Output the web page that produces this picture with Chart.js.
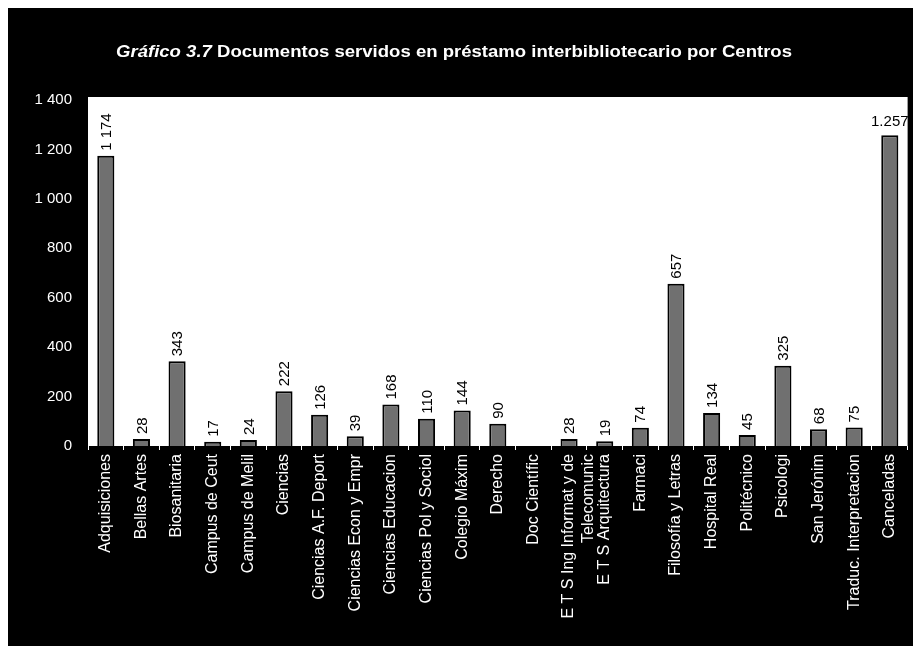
<!DOCTYPE html>
<html>
<head>
<meta charset="utf-8">
<script src="https://cdn.jsdelivr.net/npm/chart.js@4/dist/chart.umd.min.js"></script>
<style>
  html, body { margin: 0; padding: 0; background: #fff; }
  canvas { display: block; }
</style>
</head>
<body>
<canvas id="prestamoChart" width="913" height="651"></canvas>
<script>
const centros = [
  'Adquisiciones', 'Bellas Artes', 'Biosanitaria', 'Campus de Ceut', 'Campus de Melil',
  'Ciencias', 'Ciencias A.F. Deport', 'Ciencias Econ y Empr', 'Ciencias Educacion',
  'Ciencias Pol y Sociol', 'Colegio Máxim', 'Derecho', 'Doc Científic',
  ['E T S Ing Informat y de', 'Telecomunic'], 'E T S Arquitectura', 'Farmaci',
  'Filosofía y Letras', 'Hospital Real', 'Politécnico', 'Psicologi', 'San Jerónim',
  'Traduc. Interpretacion', 'Canceladas'
];
const documentos = [1174, 28, 343, 17, 24, 222, 126, 39, 168, 110, 144, 90, 0, 28, 19, 74, 657, 134, 45, 325, 68, 75, 1257];
const yMax = 1400;
const yStep = 200;

const titleItalic = 'Gráfico 3.7';
const titleRest = ' Documentos servidos en préstamo interbibliotecario por Centros';

// thousands with a space, like the axis ("1 400")
function withSpace(v) {
  const s = String(v);
  return s.length > 3 ? s.slice(0, -3) + ' ' + s.slice(-3) : s;
}

const backgroundPlugin = {
  id: 'background',
  beforeDraw(chart) {
    const { ctx, chartArea: a } = chart;
    ctx.save();
    ctx.fillStyle = '#fff';
    ctx.fillRect(0, 0, chart.width, chart.height);
    ctx.fillStyle = '#000';
    ctx.fillRect(8, 8, chart.width - 8, 638);
    ctx.fillStyle = '#fff';
    ctx.fillRect(a.left, a.top - 3, a.right - a.left, a.bottom - a.top + 3);
    ctx.restore();
  }
};

const titlePlugin = {
  id: 'mixedTitle',
  afterDraw(chart) {
    const ctx = chart.ctx;
    ctx.save();
    ctx.fillStyle = '#fff';
    ctx.textBaseline = 'middle';
    const fItalic = 'italic bold 15px "Liberation Sans", Arial, sans-serif';
    const fBold = 'bold 15px "Liberation Sans", Arial, sans-serif';
    ctx.font = fItalic;
    const w1 = ctx.measureText(titleItalic).width;
    ctx.font = fBold;
    const w2 = ctx.measureText(titleRest).width;
    const target = 676;
    const k = target / (w1 + w2);
    const x0 = 454 - target / 2;
    ctx.translate(x0, 53);
    ctx.scale(k, 1.05);
    ctx.font = fItalic;
    ctx.fillText(titleItalic, 0, 0);
    ctx.font = fBold;
    ctx.fillText(titleRest, w1, 0);
    ctx.restore();
  }
};

const valueLabelPlugin = {
  id: 'valueLabels',
  afterDatasetsDraw(chart) {
    const ctx = chart.ctx;
    const meta = chart.getDatasetMeta(0);
    const data = chart.data.datasets[0].data;
    ctx.save();
    ctx.fillStyle = '#000';
    ctx.font = '15px "Liberation Sans", Arial, sans-serif';
    meta.data.forEach((bar, i) => {
      const v = data[i];
      if (!v) return;
      if (i === data.length - 1) {
        // last one is written flat and with a dot in the picture: "1.257"
        const txt = withSpace(v).replace(' ', '.');
        const w = ctx.measureText(txt).width;
        const x = Math.min(bar.x, chart.width - w / 2 - 1);
        ctx.textAlign = 'center';
        ctx.textBaseline = 'bottom';
        ctx.fillText(txt, x, bar.y - 6);
      } else {
        ctx.save();
        ctx.translate(bar.x, bar.y - 5);
        ctx.rotate(-Math.PI / 2);
        ctx.textAlign = 'left';
        ctx.textBaseline = 'middle';
        ctx.fillText(withSpace(v), 0, 1);
        ctx.restore();
      }
    });
    ctx.restore();
  }
};

function createChart() {
  const ctx = document.getElementById('prestamoChart').getContext('2d');
  return new Chart(ctx, {
    type: 'bar',
    data: {
      labels: centros,
      datasets: [{
        label: 'Documentos',
        data: documentos,
        backgroundColor: '#707070',
        borderColor: '#000',
        borderWidth: 2,
        borderSkipped: 'bottom',
        categoryPercentage: 1,
        barPercentage: 0.48
      }]
    },
    options: {
      responsive: false,
      animation: false,
      devicePixelRatio: 1,
      layout: { padding: { left: 8, right: 0, top: 100, bottom: 5 } },
      plugins: {
        legend: { display: false },
        title: { display: false },
        tooltip: { enabled: false }
      },
      scales: {
        x: {
          afterFit: (s) => { s.height = 200; },
          grid: {
            display: true,
            drawOnChartArea: false,
            color: '#fff',
            tickLength: 4,
            offset: true
          },
          border: { display: false },
          ticks: {
            color: '#fff',
            autoSkip: false,
            maxRotation: 90,
            minRotation: 90,
            padding: 4,
            font: { family: '"Liberation Sans", Arial, sans-serif', size: 16 }
          }
        },
        y: {
          min: 0,
          max: yMax,
          afterFit: (s) => { s.width = 80; },
          grid: { display: false, drawTicks: false },
          border: { display: false },
          ticks: {
            stepSize: yStep,
            color: '#fff',
            padding: 16,
            font: { family: '"Liberation Sans", Arial, sans-serif', size: 15 },
            callback: (value) => withSpace(value)
          }
        }
      }
    },
    plugins: [backgroundPlugin, titlePlugin, valueLabelPlugin]
  });
}

document.addEventListener('DOMContentLoaded', () => {
  createChart();
});
</script>
</body>
</html>
